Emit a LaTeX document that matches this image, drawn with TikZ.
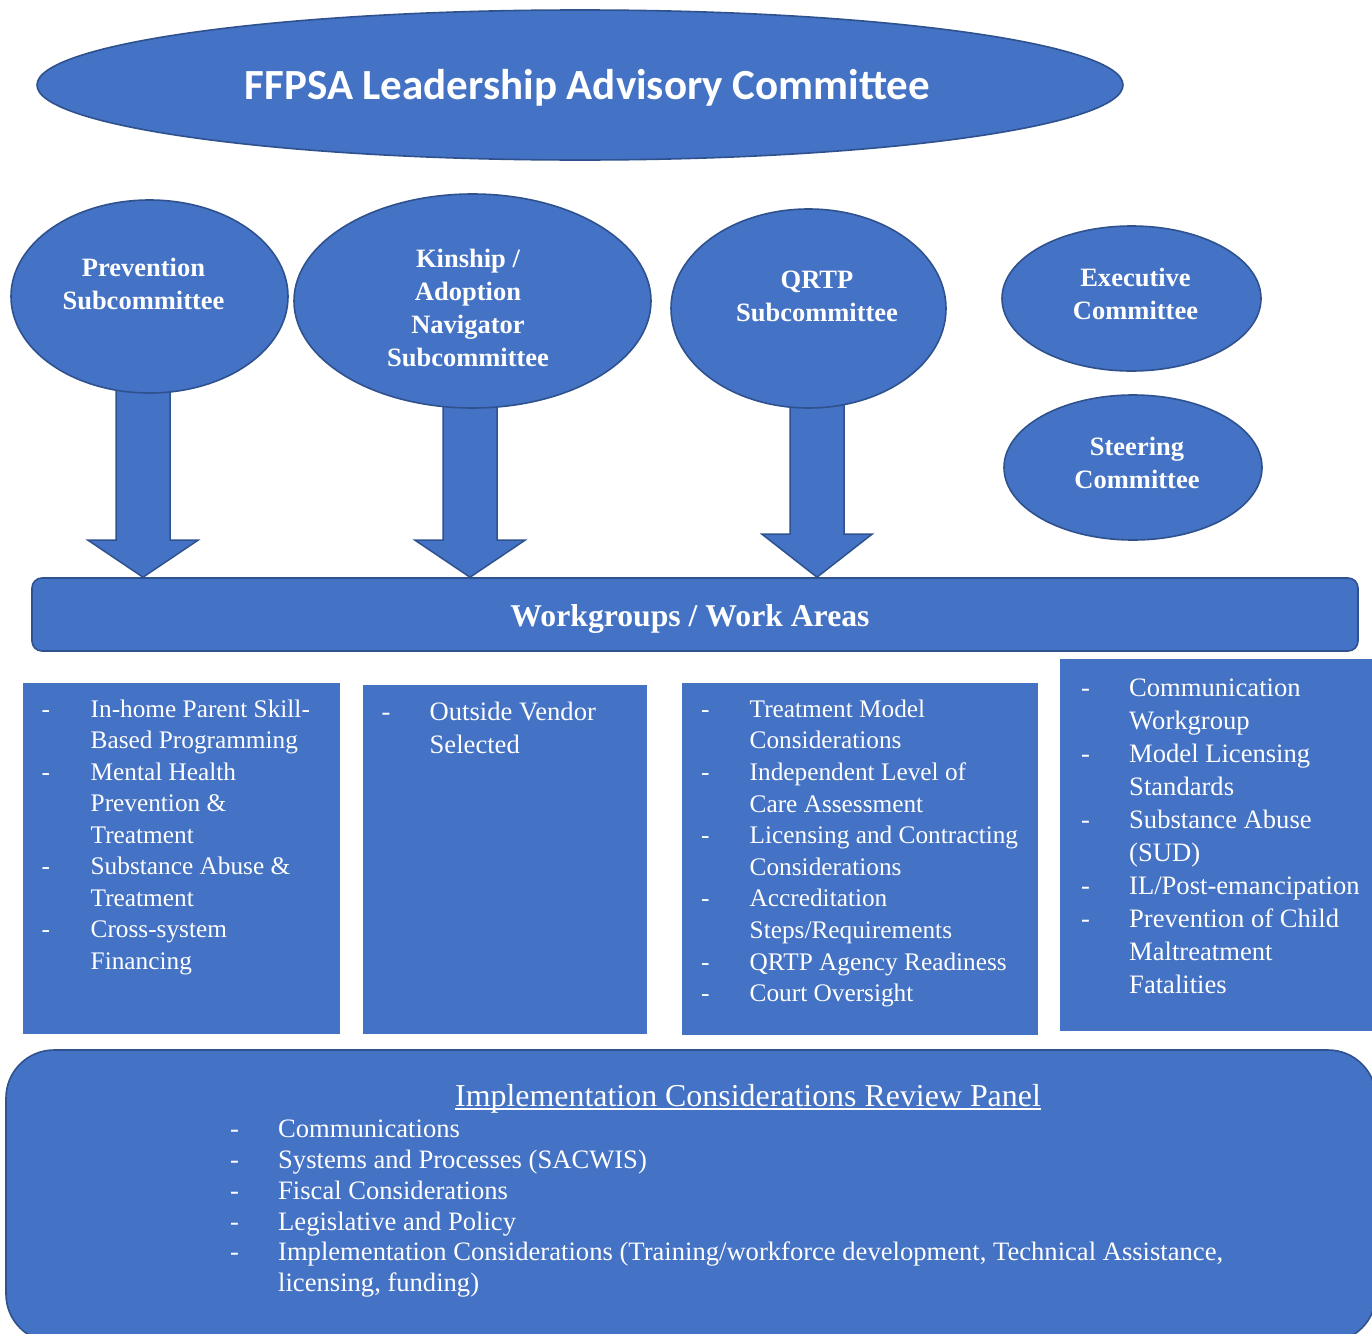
\documentclass[tikz,border=0pt]{standalone}
\usepackage{fontspec}
\setmainfont{Liberation Serif}
\newfontfamily\calibfont{Carlito}
\usetikzlibrary{shapes.geometric,backgrounds,calc}
\definecolor{fillblue}{HTML}{4472C4}
\definecolor{edgeblue}{HTML}{2F528F}
\tikzset{
  ell/.style={ellipse, fill=fillblue, draw=edgeblue, line width=1.6pt, inner sep=0pt},
  elltext/.style={text=white, align=center, inner sep=0pt, font=\bfseries\fontsize{26.5}{33}\selectfont},
  bigarr/.style={fill=fillblue, draw=edgeblue, line width=1.5pt, line join=miter},
  listbox/.style={fill=fillblue, draw=none},
  listtext/.style={text=white, inner sep=0pt, anchor=base west},
  roundbox/.style={rectangle, fill=fillblue, draw=edgeblue, line width=1.6pt, inner sep=0pt},
}
\newcommand\bigarrow[3]{%
  \draw[bigarr] let \p1=(#1.center), \p2=(work.north) in
  ({\x1+(#2)-27},\y1) -- ({\x1+(#2)-27},{\y2+#3}) -- ({\x1+(#2)-55},{\y2+#3}) --
  ({\x1+(#2)},\y2) -- ({\x1+(#2)+55},{\y2+#3}) -- ({\x1+(#2)+27},{\y2+#3}) --
  ({\x1+(#2)+27},\y1) -- cycle;}
\begin{document}
\begin{tikzpicture}[x=1pt,y=1pt]
\useasboundingbox (0,0) rectangle (1372,-1333);
\clip (0,0) rectangle (1372,-1333);

% top ellipse
\node[ell, minimum width=1086pt, minimum height=150pt] (lac) at (580,-85) {};
\node[text=white, inner sep=0pt, anchor=base, font=\calibfont\bfseries\fontsize{43}{50}\selectfont] (lactext) at (587.5,-99.5) {FFPSA Leadership Advisory Committee};

% workgroups bar
\node[roundbox, rounded corners=10pt, minimum width=1326pt, minimum height=73pt] (work) at (695,-614.5) {};
\node[text=white, inner sep=0pt, anchor=base, font=\bfseries\fontsize{31.7}{38}\selectfont] (worktext) at (690,-626) {Workgroups / Work Areas};

% subcommittee ellipses
\node[ell, minimum width=277pt, minimum height=193pt] (prev) at (149.5,-296.5) {};
\node[ell, minimum width=357pt, minimum height=214pt] (kin) at (472.5,-301) {};
\node[ell, minimum width=275pt, minimum height=199pt] (qrtp) at (808.5,-308.5) {};
\node[ell, minimum width=259pt, minimum height=145pt] (exec) at (1131.5,-298.5) {};
\node[ell, minimum width=258pt, minimum height=145pt] (steer) at (1133,-467.5) {};

\node[elltext] (prevtext) at (143.5,-283.5) {Prevention\\Subcommittee};
\node[elltext] (kintext) at (468,-308) {Kinship /\\Adoption\\Navigator\\Subcommittee};
\node[elltext] (qrtptext) at (817,-296) {QRTP\\Subcommittee};
\node[elltext] (exectext) at (1135.5,-293.5) {Executive\\Committee};
\node[elltext] (steertext) at (1137,-462.5) {Steering\\Committee};

% white page and arrows behind ellipses
\begin{pgfonlayer}{background}
\fill[white] (0,0) rectangle (1372,-1333);
\bigarrow{prev}{-6.5}{37}
\bigarrow{kin}{-2.5}{37}
\bigarrow{qrtp}{8.5}{43}
\end{pgfonlayer}

% list boxes
\fill[listbox] (23,-683) rectangle (340,-1034);
\fill[listbox] (362.5,-685) rectangle (647,-1034);
\fill[listbox] (682,-683) rectangle (1038,-1035);
\fill[listbox] (1060,-659) rectangle (1376,-1031);

\node[listtext, font=\fontsize{25.3}{31.5}\selectfont] (list1) at (41.5,-717.3) {\begin{tabular}[t]{@{}p{49pt}@{}l@{}}
- & In-home Parent Skill-\\
  & Based Programming\\
- & Mental Health\\
  & Prevention \&\\
  & Treatment\\
- & Substance Abuse \&\\
  & Treatment\\
- & Cross-system\\
  & Financing
\end{tabular}};

\node[listtext, font=\fontsize{26.6}{33}\selectfont] (list2) at (381.5,-720.7) {\begin{tabular}[t]{@{}p{48pt}@{}l@{}}
- & Outside Vendor\\
  & Selected
\end{tabular}};

\node[listtext, font=\fontsize{25.3}{31.6}\selectfont] (list3) at (701,-717.3) {\begin{tabular}[t]{@{}p{48.5pt}@{}l@{}}
- & Treatment Model\\
  & Considerations\\
- & Independent Level of\\
  & Care Assessment\\
- & Licensing and Contracting\\
  & Considerations\\
- & Accreditation\\
  & Steps/Requirements\\
- & QRTP Agency Readiness\\
- & Court Oversight
\end{tabular}};

\node[listtext, font=\fontsize{26.6}{33}\selectfont] (list4) at (1081,-696.7) {\begin{tabular}[t]{@{}p{48pt}@{}l@{}}
- & Communication\\
  & Workgroup\\
- & Model Licensing\\
  & Standards\\
- & Substance Abuse\\
  & (SUD)\\
- & IL/Post-emancipation\\
- & Prevention of Child\\
  & Maltreatment\\
  & Fatalities
\end{tabular}};

% bottom panel
\node[roundbox, rounded corners=48pt, minimum width=1370pt, minimum height=292pt] (panel) at (691,-1196) {};
\node[text=white, inner sep=0pt, anchor=base, font=\fontsize{31.9}{38}\selectfont] (paneltitle) at (748,-1106) {Implementation Considerations Review Panel};
\draw[white, line width=1.6pt] ([yshift=-3pt]paneltitle.base west) -- ([yshift=-3pt]paneltitle.base east);

\node[listtext, font=\fontsize{26.6}{30.9}\selectfont] (list5) at (230,-1137.3) {\begin{tabular}[t]{@{}p{48pt}@{}l@{}}
- & Communications\\
- & Systems and Processes (SACWIS)\\
- & Fiscal Considerations\\
- & Legislative and Policy\\
- & Implementation Considerations (Training/workforce development, Technical Assistance,\\
  & licensing, funding)
\end{tabular}};
\end{tikzpicture}
\end{document}
